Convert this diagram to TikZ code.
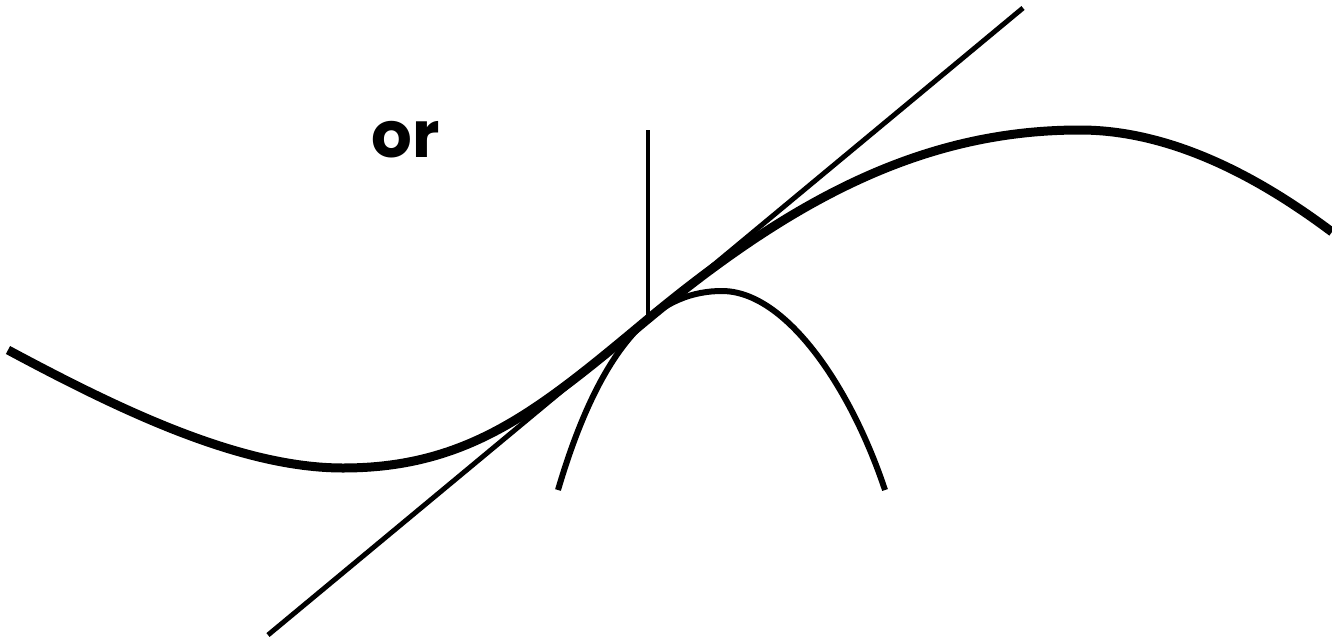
\documentclass[tikz,border=0pt]{standalone}
\usepackage{fontspec}
\newfontfamily\labelfont{Poppins}
\begin{document}
\begin{tikzpicture}[x=1pt,y=-1pt,
  curvestyle/.style={line width=9pt},
  tangentstyle/.style={line width=5pt},
  parabstyle/.style={line width=6pt},
  normalstyle/.style={line width=4pt},
  labelstyle/.style={font=\labelfont\bfseries\fontsize{64}{64}\selectfont, inner sep=0pt}]
\useasboundingbox (0,0) rectangle (1332,643);
\coordinate (P) at (648,319);
\coordinate (T1) at (268,635);
\coordinate (T2) at (1023,8);
\coordinate (N) at (648,130);
% main curve
\draw[curvestyle] (8,350) .. controls (120,410) and (240,468) .. (343,468)
  .. controls (470,468) and (540,409) .. (P)
  .. controls (795,197) and (925,130) .. (1080,130)
  .. controls (1180,130) and (1272,187) .. (1332,232);
% tangent line
\draw[tangentstyle] (T1) -- (T2);
% vertical line
\draw[normalstyle] (N) -- (P);
% parabola
\draw[parabstyle] (558,490) .. controls (605,330) and (665,291) .. (722,291)
  .. controls (785,291) and (850,385) .. (885,490);
\node[labelstyle] (or) at (406,140) {or};
\end{tikzpicture}
\end{document}
